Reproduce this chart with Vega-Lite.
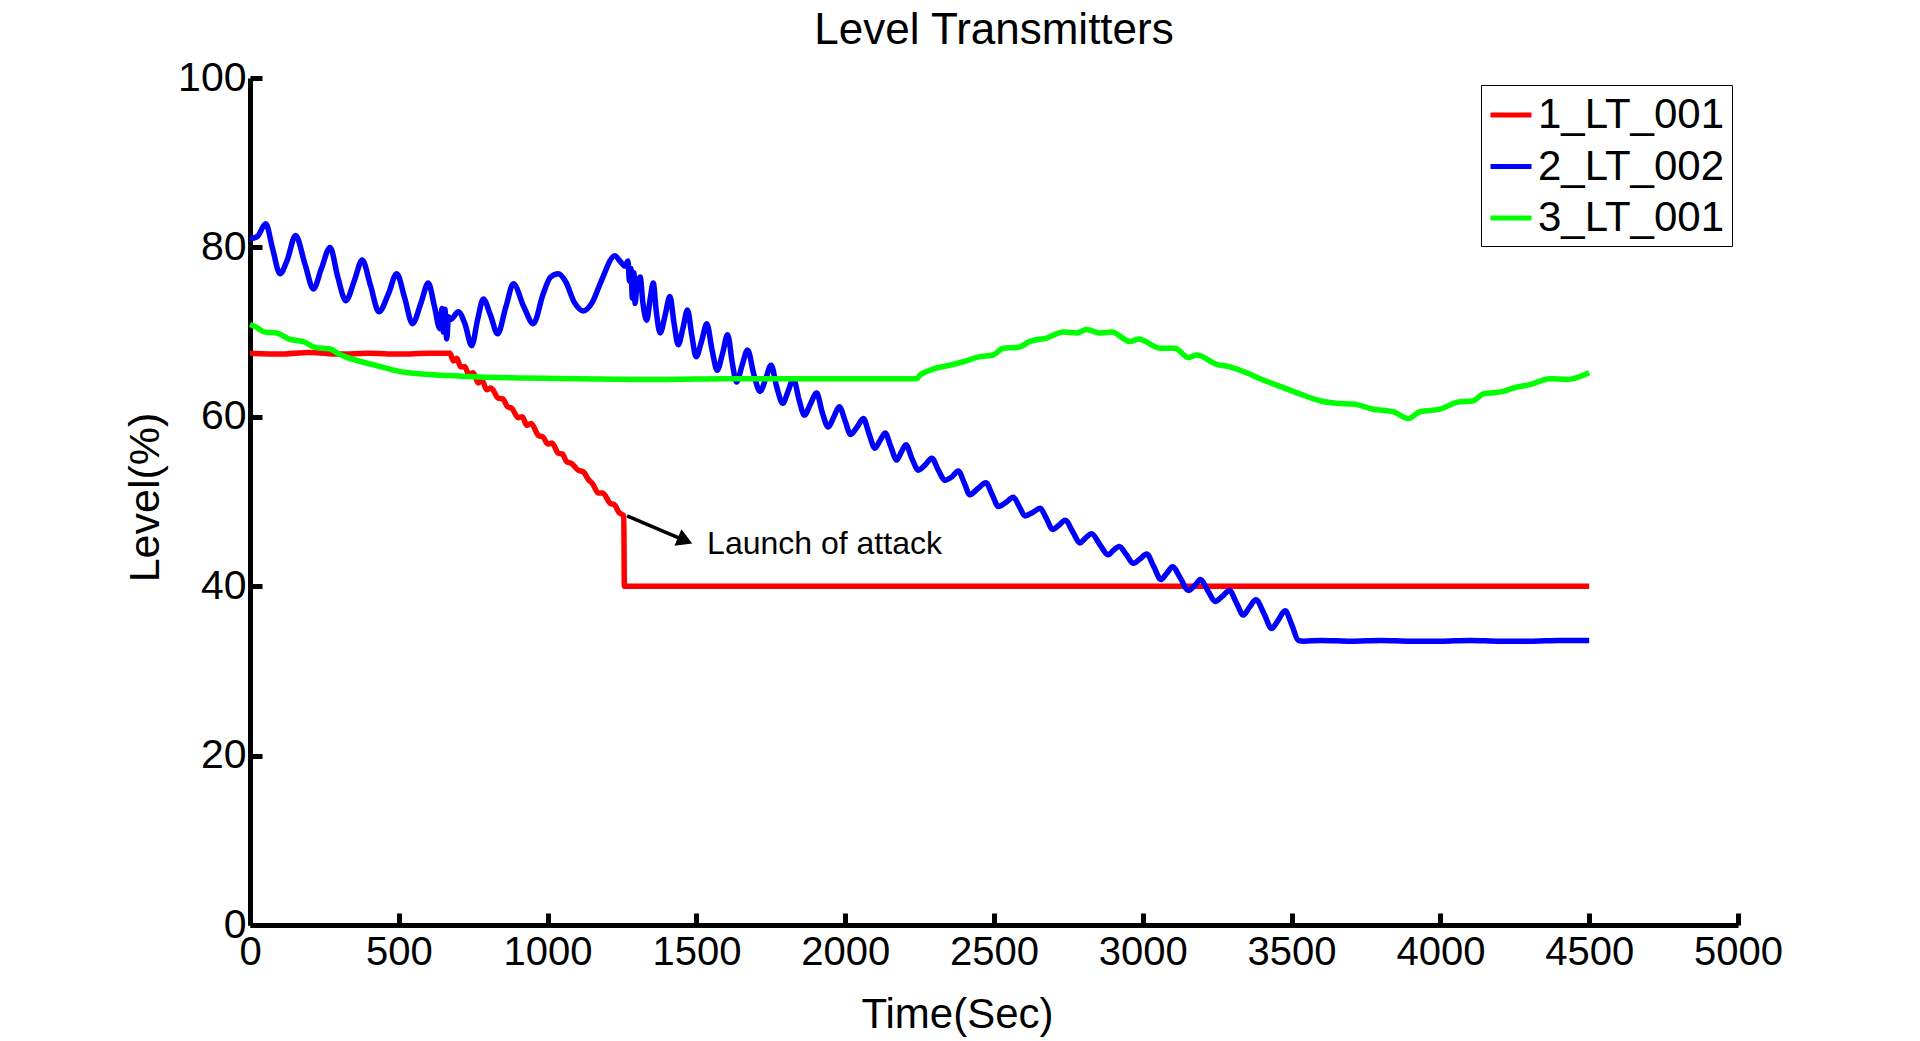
{
  "$schema": "https://vega.github.io/schema/vega-lite/v6.json",
  "autosize": {"type": "none"},
  "padding": {"left": 250, "top": 78, "right": 182, "bottom": 116},
  "width": 1488,
  "height": 847,
  "background": "white",
  "title": {
    "text": "Level Transmitters",
    "fontSize": 44,
    "fontWeight": "normal",
    "font": "Liberation Sans",
    "color": "black",
    "anchor": "middle",
    "offset": 4
  },
  "datasets": {
    "levels": [
      {"t": 0, "v": 67.5, "s": "1_LT_001"},
      {"t": 100, "v": 67.4, "s": "1_LT_001"},
      {"t": 200, "v": 67.6, "s": "1_LT_001"},
      {"t": 300, "v": 67.4, "s": "1_LT_001"},
      {"t": 400, "v": 67.5, "s": "1_LT_001"},
      {"t": 500, "v": 67.4, "s": "1_LT_001"},
      {"t": 600, "v": 67.5, "s": "1_LT_001"},
      {"t": 672, "v": 67.5, "s": "1_LT_001"},
      {"t": 683, "v": 66.6, "s": "1_LT_001"},
      {"t": 695, "v": 66.9, "s": "1_LT_001"},
      {"t": 708, "v": 65.9, "s": "1_LT_001"},
      {"t": 722, "v": 65.9, "s": "1_LT_001"},
      {"t": 735, "v": 65.0, "s": "1_LT_001"},
      {"t": 750, "v": 65.2, "s": "1_LT_001"},
      {"t": 767, "v": 64.0, "s": "1_LT_001"},
      {"t": 780, "v": 64.3, "s": "1_LT_001"},
      {"t": 795, "v": 63.2, "s": "1_LT_001"},
      {"t": 810, "v": 63.4, "s": "1_LT_001"},
      {"t": 834, "v": 62.2, "s": "1_LT_001"},
      {"t": 850, "v": 62.1, "s": "1_LT_001"},
      {"t": 865, "v": 61.2, "s": "1_LT_001"},
      {"t": 880, "v": 61.0, "s": "1_LT_001"},
      {"t": 901, "v": 59.9, "s": "1_LT_001"},
      {"t": 915, "v": 60.0, "s": "1_LT_001"},
      {"t": 930, "v": 59.0, "s": "1_LT_001"},
      {"t": 945, "v": 59.2, "s": "1_LT_001"},
      {"t": 969, "v": 57.8, "s": "1_LT_001"},
      {"t": 985, "v": 57.6, "s": "1_LT_001"},
      {"t": 1000, "v": 56.8, "s": "1_LT_001"},
      {"t": 1015, "v": 56.9, "s": "1_LT_001"},
      {"t": 1036, "v": 55.7, "s": "1_LT_001"},
      {"t": 1050, "v": 55.6, "s": "1_LT_001"},
      {"t": 1064, "v": 54.7, "s": "1_LT_001"},
      {"t": 1080, "v": 54.5, "s": "1_LT_001"},
      {"t": 1103, "v": 53.7, "s": "1_LT_001"},
      {"t": 1120, "v": 53.5, "s": "1_LT_001"},
      {"t": 1137, "v": 52.6, "s": "1_LT_001"},
      {"t": 1153, "v": 52.0, "s": "1_LT_001"},
      {"t": 1170, "v": 51.0, "s": "1_LT_001"},
      {"t": 1185, "v": 51.0, "s": "1_LT_001"},
      {"t": 1210, "v": 49.8, "s": "1_LT_001"},
      {"t": 1225, "v": 49.6, "s": "1_LT_001"},
      {"t": 1240, "v": 48.7, "s": "1_LT_001"},
      {"t": 1256, "v": 48.3, "s": "1_LT_001"},
      {"t": 1258, "v": 40.0, "s": "1_LT_001"},
      {"t": 2500, "v": 40.0, "s": "1_LT_001"},
      {"t": 4500, "v": 40.0, "s": "1_LT_001"},

      {"t": 0, "v": 81.0, "s": "2_LT_002"},
      {"t": 25, "v": 81.3, "s": "2_LT_002"},
      {"t": 53, "v": 82.8, "s": "2_LT_002"},
      {"t": 75, "v": 80.0, "s": "2_LT_002"},
      {"t": 101, "v": 76.9, "s": "2_LT_002"},
      {"t": 125, "v": 78.5, "s": "2_LT_002"},
      {"t": 153, "v": 81.4, "s": "2_LT_002"},
      {"t": 185, "v": 78.0, "s": "2_LT_002"},
      {"t": 213, "v": 75.1, "s": "2_LT_002"},
      {"t": 240, "v": 77.5, "s": "2_LT_002"},
      {"t": 269, "v": 80.0, "s": "2_LT_002"},
      {"t": 295, "v": 76.5, "s": "2_LT_002"},
      {"t": 322, "v": 73.7, "s": "2_LT_002"},
      {"t": 350, "v": 76.0, "s": "2_LT_002"},
      {"t": 377, "v": 78.5, "s": "2_LT_002"},
      {"t": 405, "v": 75.5, "s": "2_LT_002"},
      {"t": 433, "v": 72.4, "s": "2_LT_002"},
      {"t": 465, "v": 74.5, "s": "2_LT_002"},
      {"t": 493, "v": 76.9, "s": "2_LT_002"},
      {"t": 520, "v": 74.0, "s": "2_LT_002"},
      {"t": 546, "v": 71.0, "s": "2_LT_002"},
      {"t": 575, "v": 73.5, "s": "2_LT_002"},
      {"t": 599, "v": 75.8, "s": "2_LT_002"},
      {"t": 620, "v": 73.0, "s": "2_LT_002"},
      {"t": 638, "v": 70.4, "s": "2_LT_002"},
      {"t": 645, "v": 72.8, "s": "2_LT_002"},
      {"t": 650, "v": 70.0, "s": "2_LT_002"},
      {"t": 655, "v": 72.7, "s": "2_LT_002"},
      {"t": 661, "v": 69.2, "s": "2_LT_002"},
      {"t": 667, "v": 71.8, "s": "2_LT_002"},
      {"t": 675, "v": 71.5, "s": "2_LT_002"},
      {"t": 700, "v": 72.4, "s": "2_LT_002"},
      {"t": 722, "v": 71.0, "s": "2_LT_002"},
      {"t": 745, "v": 68.4, "s": "2_LT_002"},
      {"t": 765, "v": 71.5, "s": "2_LT_002"},
      {"t": 784, "v": 73.9, "s": "2_LT_002"},
      {"t": 808, "v": 72.0, "s": "2_LT_002"},
      {"t": 832, "v": 69.8, "s": "2_LT_002"},
      {"t": 860, "v": 73.0, "s": "2_LT_002"},
      {"t": 885, "v": 75.7, "s": "2_LT_002"},
      {"t": 920, "v": 73.0, "s": "2_LT_002"},
      {"t": 952, "v": 71.0, "s": "2_LT_002"},
      {"t": 985, "v": 74.5, "s": "2_LT_002"},
      {"t": 1010, "v": 76.5, "s": "2_LT_002"},
      {"t": 1036, "v": 76.9, "s": "2_LT_002"},
      {"t": 1060, "v": 76.0, "s": "2_LT_002"},
      {"t": 1090, "v": 73.5, "s": "2_LT_002"},
      {"t": 1120, "v": 72.5, "s": "2_LT_002"},
      {"t": 1150, "v": 73.5, "s": "2_LT_002"},
      {"t": 1180, "v": 76.0, "s": "2_LT_002"},
      {"t": 1226, "v": 79.0, "s": "2_LT_002"},
      {"t": 1245, "v": 78.3, "s": "2_LT_002"},
      {"t": 1260, "v": 77.8, "s": "2_LT_002"},
      {"t": 1270, "v": 78.4, "s": "2_LT_002"},
      {"t": 1275, "v": 76.0, "s": "2_LT_002"},
      {"t": 1280, "v": 77.5, "s": "2_LT_002"},
      {"t": 1285, "v": 74.0, "s": "2_LT_002"},
      {"t": 1290, "v": 77.0, "s": "2_LT_002"},
      {"t": 1294, "v": 73.4, "s": "2_LT_002"},
      {"t": 1300, "v": 75.5, "s": "2_LT_002"},
      {"t": 1311, "v": 76.5, "s": "2_LT_002"},
      {"t": 1320, "v": 73.5, "s": "2_LT_002"},
      {"t": 1333, "v": 71.4, "s": "2_LT_002"},
      {"t": 1345, "v": 74.0, "s": "2_LT_002"},
      {"t": 1355, "v": 75.8, "s": "2_LT_002"},
      {"t": 1365, "v": 72.5, "s": "2_LT_002"},
      {"t": 1378, "v": 69.9, "s": "2_LT_002"},
      {"t": 1395, "v": 72.0, "s": "2_LT_002"},
      {"t": 1411, "v": 74.2, "s": "2_LT_002"},
      {"t": 1425, "v": 71.0, "s": "2_LT_002"},
      {"t": 1439, "v": 68.5, "s": "2_LT_002"},
      {"t": 1455, "v": 70.5, "s": "2_LT_002"},
      {"t": 1470, "v": 72.6, "s": "2_LT_002"},
      {"t": 1485, "v": 69.5, "s": "2_LT_002"},
      {"t": 1499, "v": 67.1, "s": "2_LT_002"},
      {"t": 1518, "v": 69.0, "s": "2_LT_002"},
      {"t": 1535, "v": 71.0, "s": "2_LT_002"},
      {"t": 1552, "v": 68.0, "s": "2_LT_002"},
      {"t": 1570, "v": 65.5, "s": "2_LT_002"},
      {"t": 1588, "v": 67.5, "s": "2_LT_002"},
      {"t": 1605, "v": 69.7, "s": "2_LT_002"},
      {"t": 1620, "v": 66.5, "s": "2_LT_002"},
      {"t": 1635, "v": 64.1, "s": "2_LT_002"},
      {"t": 1653, "v": 66.0, "s": "2_LT_002"},
      {"t": 1672, "v": 67.9, "s": "2_LT_002"},
      {"t": 1693, "v": 65.0, "s": "2_LT_002"},
      {"t": 1714, "v": 63.0, "s": "2_LT_002"},
      {"t": 1733, "v": 64.5, "s": "2_LT_002"},
      {"t": 1751, "v": 66.1, "s": "2_LT_002"},
      {"t": 1770, "v": 63.5, "s": "2_LT_002"},
      {"t": 1790, "v": 61.6, "s": "2_LT_002"},
      {"t": 1808, "v": 63.0, "s": "2_LT_002"},
      {"t": 1826, "v": 64.5, "s": "2_LT_002"},
      {"t": 1845, "v": 62.0, "s": "2_LT_002"},
      {"t": 1863, "v": 60.2, "s": "2_LT_002"},
      {"t": 1883, "v": 61.5, "s": "2_LT_002"},
      {"t": 1904, "v": 62.8, "s": "2_LT_002"},
      {"t": 1923, "v": 60.5, "s": "2_LT_002"},
      {"t": 1943, "v": 58.8, "s": "2_LT_002"},
      {"t": 1962, "v": 60.0, "s": "2_LT_002"},
      {"t": 1980, "v": 61.2, "s": "2_LT_002"},
      {"t": 2000, "v": 59.5, "s": "2_LT_002"},
      {"t": 2018, "v": 57.9, "s": "2_LT_002"},
      {"t": 2040, "v": 58.8, "s": "2_LT_002"},
      {"t": 2061, "v": 59.8, "s": "2_LT_002"},
      {"t": 2080, "v": 58.0, "s": "2_LT_002"},
      {"t": 2100, "v": 56.3, "s": "2_LT_002"},
      {"t": 2117, "v": 57.2, "s": "2_LT_002"},
      {"t": 2134, "v": 58.1, "s": "2_LT_002"},
      {"t": 2153, "v": 56.5, "s": "2_LT_002"},
      {"t": 2173, "v": 54.9, "s": "2_LT_002"},
      {"t": 2188, "v": 55.8, "s": "2_LT_002"},
      {"t": 2204, "v": 56.7, "s": "2_LT_002"},
      {"t": 2225, "v": 55.0, "s": "2_LT_002"},
      {"t": 2246, "v": 53.7, "s": "2_LT_002"},
      {"t": 2268, "v": 54.3, "s": "2_LT_002"},
      {"t": 2291, "v": 55.1, "s": "2_LT_002"},
      {"t": 2313, "v": 53.7, "s": "2_LT_002"},
      {"t": 2335, "v": 52.5, "s": "2_LT_002"},
      {"t": 2358, "v": 52.9, "s": "2_LT_002"},
      {"t": 2380, "v": 53.6, "s": "2_LT_002"},
      {"t": 2400, "v": 52.2, "s": "2_LT_002"},
      {"t": 2419, "v": 50.8, "s": "2_LT_002"},
      {"t": 2445, "v": 51.5, "s": "2_LT_002"},
      {"t": 2473, "v": 52.2, "s": "2_LT_002"},
      {"t": 2494, "v": 50.8, "s": "2_LT_002"},
      {"t": 2515, "v": 49.4, "s": "2_LT_002"},
      {"t": 2540, "v": 49.9, "s": "2_LT_002"},
      {"t": 2565, "v": 50.5, "s": "2_LT_002"},
      {"t": 2585, "v": 49.4, "s": "2_LT_002"},
      {"t": 2604, "v": 48.3, "s": "2_LT_002"},
      {"t": 2630, "v": 48.7, "s": "2_LT_002"},
      {"t": 2655, "v": 49.2, "s": "2_LT_002"},
      {"t": 2676, "v": 48.0, "s": "2_LT_002"},
      {"t": 2697, "v": 46.7, "s": "2_LT_002"},
      {"t": 2718, "v": 47.2, "s": "2_LT_002"},
      {"t": 2739, "v": 47.8, "s": "2_LT_002"},
      {"t": 2765, "v": 46.4, "s": "2_LT_002"},
      {"t": 2789, "v": 45.1, "s": "2_LT_002"},
      {"t": 2805, "v": 45.6, "s": "2_LT_002"},
      {"t": 2828, "v": 46.2, "s": "2_LT_002"},
      {"t": 2856, "v": 44.9, "s": "2_LT_002"},
      {"t": 2884, "v": 43.7, "s": "2_LT_002"},
      {"t": 2900, "v": 44.2, "s": "2_LT_002"},
      {"t": 2921, "v": 44.7, "s": "2_LT_002"},
      {"t": 2945, "v": 43.7, "s": "2_LT_002"},
      {"t": 2968, "v": 42.7, "s": "2_LT_002"},
      {"t": 2990, "v": 43.2, "s": "2_LT_002"},
      {"t": 3013, "v": 43.8, "s": "2_LT_002"},
      {"t": 3037, "v": 42.3, "s": "2_LT_002"},
      {"t": 3061, "v": 40.8, "s": "2_LT_002"},
      {"t": 3080, "v": 41.5, "s": "2_LT_002"},
      {"t": 3100, "v": 42.3, "s": "2_LT_002"},
      {"t": 3127, "v": 40.9, "s": "2_LT_002"},
      {"t": 3153, "v": 39.5, "s": "2_LT_002"},
      {"t": 3175, "v": 40.1, "s": "2_LT_002"},
      {"t": 3194, "v": 40.8, "s": "2_LT_002"},
      {"t": 3218, "v": 39.5, "s": "2_LT_002"},
      {"t": 3243, "v": 38.2, "s": "2_LT_002"},
      {"t": 3267, "v": 38.8, "s": "2_LT_002"},
      {"t": 3291, "v": 39.5, "s": "2_LT_002"},
      {"t": 3315, "v": 38.0, "s": "2_LT_002"},
      {"t": 3338, "v": 36.6, "s": "2_LT_002"},
      {"t": 3358, "v": 37.5, "s": "2_LT_002"},
      {"t": 3380, "v": 38.4, "s": "2_LT_002"},
      {"t": 3408, "v": 36.7, "s": "2_LT_002"},
      {"t": 3433, "v": 35.0, "s": "2_LT_002"},
      {"t": 3455, "v": 36.0, "s": "2_LT_002"},
      {"t": 3478, "v": 37.1, "s": "2_LT_002"},
      {"t": 3500, "v": 35.5, "s": "2_LT_002"},
      {"t": 3523, "v": 33.6, "s": "2_LT_002"},
      {"t": 3540, "v": 33.5, "s": "2_LT_002"},
      {"t": 3600, "v": 33.6, "s": "2_LT_002"},
      {"t": 3700, "v": 33.5, "s": "2_LT_002"},
      {"t": 3800, "v": 33.6, "s": "2_LT_002"},
      {"t": 3900, "v": 33.5, "s": "2_LT_002"},
      {"t": 4000, "v": 33.5, "s": "2_LT_002"},
      {"t": 4100, "v": 33.6, "s": "2_LT_002"},
      {"t": 4200, "v": 33.5, "s": "2_LT_002"},
      {"t": 4300, "v": 33.5, "s": "2_LT_002"},
      {"t": 4400, "v": 33.6, "s": "2_LT_002"},
      {"t": 4500, "v": 33.6, "s": "2_LT_002"},

      {"t": 0, "v": 70.9, "s": "3_LT_001"},
      {"t": 20, "v": 70.6, "s": "3_LT_001"},
      {"t": 50, "v": 70.0, "s": "3_LT_001"},
      {"t": 90, "v": 69.9, "s": "3_LT_001"},
      {"t": 129, "v": 69.2, "s": "3_LT_001"},
      {"t": 185, "v": 68.8, "s": "3_LT_001"},
      {"t": 218, "v": 68.2, "s": "3_LT_001"},
      {"t": 269, "v": 68.0, "s": "3_LT_001"},
      {"t": 300, "v": 67.4, "s": "3_LT_001"},
      {"t": 319, "v": 67.1, "s": "3_LT_001"},
      {"t": 375, "v": 66.5, "s": "3_LT_001"},
      {"t": 442, "v": 65.9, "s": "3_LT_001"},
      {"t": 510, "v": 65.3, "s": "3_LT_001"},
      {"t": 599, "v": 65.0, "s": "3_LT_001"},
      {"t": 711, "v": 64.8, "s": "3_LT_001"},
      {"t": 879, "v": 64.6, "s": "3_LT_001"},
      {"t": 1103, "v": 64.5, "s": "3_LT_001"},
      {"t": 1383, "v": 64.4, "s": "3_LT_001"},
      {"t": 1600, "v": 64.5, "s": "3_LT_001"},
      {"t": 1900, "v": 64.5, "s": "3_LT_001"},
      {"t": 2240, "v": 64.5, "s": "3_LT_001"},
      {"t": 2251, "v": 64.9, "s": "3_LT_001"},
      {"t": 2285, "v": 65.5, "s": "3_LT_001"},
      {"t": 2352, "v": 66.1, "s": "3_LT_001"},
      {"t": 2397, "v": 66.5, "s": "3_LT_001"},
      {"t": 2453, "v": 67.1, "s": "3_LT_001"},
      {"t": 2498, "v": 67.3, "s": "3_LT_001"},
      {"t": 2531, "v": 68.1, "s": "3_LT_001"},
      {"t": 2582, "v": 68.2, "s": "3_LT_001"},
      {"t": 2621, "v": 68.9, "s": "3_LT_001"},
      {"t": 2677, "v": 69.3, "s": "3_LT_001"},
      {"t": 2733, "v": 70.0, "s": "3_LT_001"},
      {"t": 2778, "v": 69.9, "s": "3_LT_001"},
      {"t": 2811, "v": 70.3, "s": "3_LT_001"},
      {"t": 2856, "v": 69.9, "s": "3_LT_001"},
      {"t": 2895, "v": 70.0, "s": "3_LT_001"},
      {"t": 2957, "v": 68.9, "s": "3_LT_001"},
      {"t": 2985, "v": 69.2, "s": "3_LT_001"},
      {"t": 3058, "v": 68.1, "s": "3_LT_001"},
      {"t": 3108, "v": 68.1, "s": "3_LT_001"},
      {"t": 3153, "v": 67.0, "s": "3_LT_001"},
      {"t": 3181, "v": 67.3, "s": "3_LT_001"},
      {"t": 3248, "v": 66.2, "s": "3_LT_001"},
      {"t": 3293, "v": 65.9, "s": "3_LT_001"},
      {"t": 3349, "v": 65.2, "s": "3_LT_001"},
      {"t": 3394, "v": 64.5, "s": "3_LT_001"},
      {"t": 3461, "v": 63.6, "s": "3_LT_001"},
      {"t": 3528, "v": 62.7, "s": "3_LT_001"},
      {"t": 3595, "v": 61.9, "s": "3_LT_001"},
      {"t": 3651, "v": 61.6, "s": "3_LT_001"},
      {"t": 3707, "v": 61.5, "s": "3_LT_001"},
      {"t": 3775, "v": 60.9, "s": "3_LT_001"},
      {"t": 3842, "v": 60.6, "s": "3_LT_001"},
      {"t": 3892, "v": 59.8, "s": "3_LT_001"},
      {"t": 3931, "v": 60.6, "s": "3_LT_001"},
      {"t": 3999, "v": 60.9, "s": "3_LT_001"},
      {"t": 4055, "v": 61.7, "s": "3_LT_001"},
      {"t": 4111, "v": 61.9, "s": "3_LT_001"},
      {"t": 4144, "v": 62.7, "s": "3_LT_001"},
      {"t": 4211, "v": 63.0, "s": "3_LT_001"},
      {"t": 4245, "v": 63.4, "s": "3_LT_001"},
      {"t": 4301, "v": 63.8, "s": "3_LT_001"},
      {"t": 4368, "v": 64.5, "s": "3_LT_001"},
      {"t": 4424, "v": 64.4, "s": "3_LT_001"},
      {"t": 4500, "v": 65.2, "s": "3_LT_001"}
    ],
    "arrow": [
      {"t": 1267, "v": 48.3, "t2": 1468, "v2": 45.3, "tipT": 1462, "tipV": 45.4, "label": "Launch of attack", "labelT": 1536, "labelV": 43.8}
    ]
  },
  "layer": [
    {
      "data": {"name": "levels"},
      "mark": {"type": "line", "strokeWidth": 5.5, "interpolate": "monotone"},
      "encoding": {
        "x": {
          "field": "t",
          "type": "quantitative",
          "scale": {"domain": [0, 5000], "nice": false, "zero": false},
          "axis": {
            "title": "Time(Sec)",
            "format": "d",
            "values": [0, 500, 1000, 1500, 2000, 2500, 3000, 3500, 4000, 4500, 5000],
            "titleX": 707,
            "titleY": 102,
            "titleBaseline": "alphabetic",
            "titleAlign": "center",
            "titleFontSize": 42,
            "labelPadding": 19,
            "labelFlush": false
          }
        },
        "y": {
          "field": "v",
          "type": "quantitative",
          "scale": {"domain": [0, 100], "nice": false},
          "axis": {
            "title": "Level(%)",
            "values": [0, 20, 40, 60, 80, 100],
            "titleX": -92,
            "titleY": 419,
            "titleAngle": -90,
            "titleBaseline": "alphabetic",
            "titleAlign": "center",
            "titleFontSize": 43,
            "labelPadding": 16,
            "labelFontSize": 41
          }
        },
        "color": {
          "field": "s",
          "type": "nominal",
          "scale": {
            "domain": ["1_LT_001", "2_LT_002", "3_LT_001"],
            "range": ["#ff0000", "#0000ff", "#00ff00"]
          },
          "legend": {
            "title": null,
            "orient": "none",
            "legendX": 1231,
            "legendY": 7,
            "symbolType": "stroke",
            "symbolSize": 1681,
            "symbolStrokeWidth": 5,
            "labelFontSize": 42,
            "labelFont": "Liberation Sans",
            "labelColor": "black",
            "labelOffset": 4,
            "rowPadding": 7.5,
            "padding": 7,
            "strokeColor": "black",
            "fillColor": "white",
            "labelLimit": 400
          }
        }
      }
    },
    {
      "data": {"name": "arrow"},
      "mark": {"type": "rule", "color": "black", "strokeWidth": 3.5},
      "encoding": {
        "x": {"field": "t", "type": "quantitative"},
        "y": {"field": "v", "type": "quantitative"},
        "x2": {"field": "t2"},
        "y2": {"field": "v2"}
      }
    },
    {
      "data": {"name": "arrow"},
      "mark": {"type": "point", "shape": "triangle-right", "filled": true, "color": "black", "size": 320, "angle": 23, "opacity": 1},
      "encoding": {
        "x": {"field": "tipT", "type": "quantitative"},
        "y": {"field": "tipV", "type": "quantitative"}
      }
    },
    {
      "data": {"name": "arrow"},
      "mark": {"type": "text", "align": "left", "baseline": "alphabetic", "fontSize": 32, "font": "Liberation Sans", "color": "black"},
      "encoding": {
        "x": {"field": "labelT", "type": "quantitative"},
        "y": {"field": "labelV", "type": "quantitative"},
        "text": {"field": "label"}
      }
    }
  ],
  "config": {
    "view": {"stroke": null},
    "font": "Liberation Sans",
    "axis": {
      "grid": false,
      "domainColor": "black",
      "domainWidth": 5,
      "tickColor": "black",
      "tickWidth": 5,
      "tickSize": -12,
      "labelFontSize": 40,
      "labelFont": "Liberation Sans",
      "labelColor": "black",
      "titleFont": "Liberation Sans",
      "titleFontWeight": "normal",
      "titleColor": "black",
      "labelOverlap": false
    }
  }
}
